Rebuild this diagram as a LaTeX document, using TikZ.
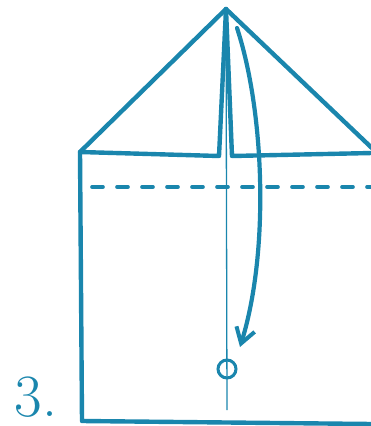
\documentclass[tikz,border=0pt]{standalone}
\usepackage{tikz}
\usetikzlibrary{arrows.meta}
\definecolor{inkblue}{RGB}{26,134,173}

\begin{document}
\begin{tikzpicture}[
    x=1pt, y=-1pt,
    ink/.style={draw=inkblue, line width=4.4pt, line cap=round, line join=round},
    foldline/.style={draw=inkblue, line width=1.3pt},
    valley/.style={draw=inkblue, line width=3.6pt, dash pattern=on 11pt off 14pt, line cap=round},
    foldarrow/.style={draw=inkblue, line width=4.2pt, line cap=round,
        -{Straight Barb[length=15pt, width=19pt, line width=4pt]}},
    target/.style={circle, draw=inkblue, line width=3pt, minimum size=18pt, inner sep=0pt},
    steplabel/.style={text=inkblue, font=\fontsize{60}{60}\selectfont, inner sep=0pt}
]
\useasboundingbox (0,0) rectangle (370,426);
% Corner points of the sheet
\coordinate (apex) at (226,9);
\coordinate (tl) at (80,152);
\coordinate (bl) at (82,421);
\coordinate (br) at (372,424);
\coordinate (tr) at (374,150);
\coordinate (lf) at (219,156);
\coordinate (rf) at (232,156);
\coordinate (re) at (372,153);
\coordinate (cb) at (227,410);
\coordinate (ds) at (92,187);
\coordinate (de) at (372,187);
\coordinate (as) at (237,28);
\coordinate (ae) at (240,347);
% Sheet outline
\draw[ink] (br) -- (bl) -- (tl) -- (apex) -- (tr);
% Folded flaps
\draw[ink] (tl) -- (lf) -- (apex);
\draw[ink] (apex) -- (rf) -- (re);
% Centre crease
\draw[foldline] (apex) -- (cb);
% Valley fold
\draw[valley] (ds) -- (de);
% Fold arrow and target
\draw[foldarrow] (as) .. controls (264,110) and (270,250) .. (ae);
\node[target] (goal) at (227,369) {};
% Step number
\node[steplabel] (step3) at (36,397) {3.};
\end{tikzpicture}
\end{document}
